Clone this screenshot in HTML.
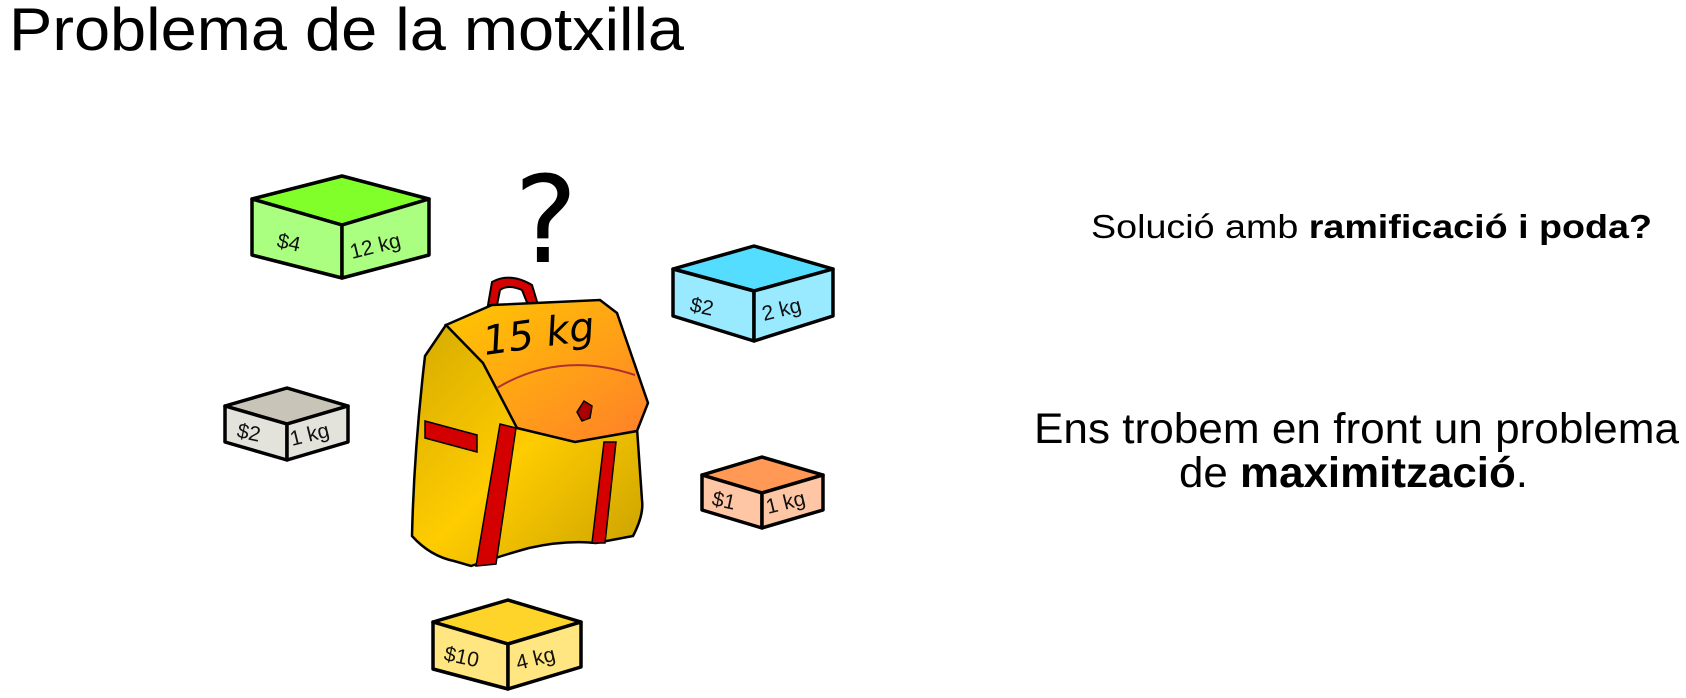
<!DOCTYPE html>
<html><head><meta charset="utf-8"><style>
html,body{margin:0;padding:0;background:#fff;}
svg{display:block;}
text{font-family:"Liberation Sans",sans-serif;}
</style></head><body>
<svg width="1686" height="698" viewBox="0 0 1686 698" xmlns="http://www.w3.org/2000/svg">
<defs>
<linearGradient id="flap" x1="0" y1="0" x2="1" y2="1"><stop offset="0" stop-color="#ffc800"/><stop offset="1" stop-color="#ff7f2a"/></linearGradient>
<linearGradient id="body" x1="0" y1="0" x2="1" y2="1"><stop offset="0" stop-color="#d4aa00"/><stop offset="0.5" stop-color="#ffcc00"/><stop offset="1" stop-color="#c8a000"/></linearGradient>
</defs>
<text x="9" y="50" font-size="60" textLength="675" lengthAdjust="spacingAndGlyphs">Problema de la motxilla</text>

<text x="1091" y="238" font-size="33" textLength="561" lengthAdjust="spacingAndGlyphs">Solució amb <tspan font-weight="bold">ramificació i poda?</tspan></text>
<text x="1034" y="443" font-size="43" textLength="645" lengthAdjust="spacingAndGlyphs">Ens trobem en front un problema</text>
<text x="1179" y="487" font-size="43" textLength="349" lengthAdjust="spacingAndGlyphs">de <tspan font-weight="bold">maximització</tspan>.</text>

<g stroke="#000" stroke-width="3.5" stroke-linejoin="round">
<polygon points="342,176 429,199 342,225 252,199" fill="#80ff2a"/>
<polygon points="252,199 342,225 342,278 252,255" fill="#aaff80"/>
<polygon points="342,225 429,199 429,255 342,278" fill="#aaff80"/>
<polygon points="754,246 833,269 754,291 673,269" fill="#55ddff"/>
<polygon points="673,269 754,291 754,341 673,316" fill="#99eaff"/>
<polygon points="754,291 833,269 833,316 754,341" fill="#99eaff"/>
<polygon points="287,388 348,406 287,424 225,406" fill="#c8c4b7"/>
<polygon points="225,406 287,424 287,460 225,442" fill="#e3e2db"/>
<polygon points="287,424 348,406 348,442 287,460" fill="#e3e2db"/>
<polygon points="762,457 823,475 762,493 702,475" fill="#ff9955"/>
<polygon points="702,475 762,493 762,528 702,510" fill="#ffc6a5"/>
<polygon points="762,493 823,475 823,510 762,528" fill="#ffc6a5"/>
<polygon points="508,600 581,622 508,644 433,622" fill="#ffd42a"/>
<polygon points="433,622 508,644 508,689 433,669" fill="#ffe680"/>
<polygon points="508,644 581,622 581,667 508,689" fill="#ffe680"/>
</g>
<g font-size="21" fill="#111" style="font-family:'DejaVu Sans',sans-serif">
<text x="276" y="247" transform="rotate(12 276 247)">$4</text>
<text x="352" y="259" transform="rotate(-14 352 259)">12 kg</text>
<text x="689" y="311" transform="rotate(12 689 311)">$2</text>
<text x="764" y="321" transform="rotate(-14 764 321)">2 kg</text>
<text x="236" y="437" transform="rotate(12 236 437)">$2</text>
<text x="292" y="446" transform="rotate(-14 292 446)">1 kg</text>
<text x="711" y="505" transform="rotate(12 711 505)">$1</text>
<text x="768" y="514" transform="rotate(-14 768 514)">1 kg</text>
<text x="443" y="660" transform="rotate(12 443 660)">$10</text>
<text x="518" y="670" transform="rotate(-14 518 670)">4 kg</text>
</g>

<text x="514" y="262" font-size="120" style="font-family:'DejaVu Sans',sans-serif">?</text>

<path d="M488,305 L492,282 Q510,272 532,285 L538,305 L528,305 L522,290 Q508,284 500,290 L497,305 Z" fill="#d40000" stroke="#000" stroke-width="2"/>
<path d="M446,325 L425,356 Q414,450 412,536 Q430,556 454,561 L471,566 Q500,556 529,548 Q565,540 596,543 L633,536 Q644,515 642,500 L637,428 L620,330 Z" fill="url(#body)" stroke="#000" stroke-width="2.5"/>
<path d="M425,421 L477,435 L477,452 L425,438 Z" fill="#d40000" stroke="#000" stroke-width="1.5"/>
<path d="M500,424 L516,428 L496,564 L476,566 Z" fill="#d40000" stroke="#000" stroke-width="1.5"/>
<path d="M604,442 L616,442 L605,543 L592,543 Z" fill="#d40000" stroke="#000" stroke-width="1.5"/>
<path d="M446,325 L492,305 L600,300 L617,313 L648,403 L637,431 L575,442 L517,428 L483,363 Z" fill="url(#flap)" stroke="#000" stroke-width="2.5"/>
<path d="M497,388 Q560,350 635,375" fill="none" stroke="#b03030" stroke-width="2"/>
<path d="M584,401 L592,406 L590,418 L582,421 L577,412 Z" fill="#a00" stroke="#000" stroke-width="1.5"/>
<text x="485" y="355" font-size="40" font-style="italic" transform="rotate(-8 485 355)" style="font-family:'DejaVu Sans',sans-serif">15 kg</text>
</svg>
</body></html>
